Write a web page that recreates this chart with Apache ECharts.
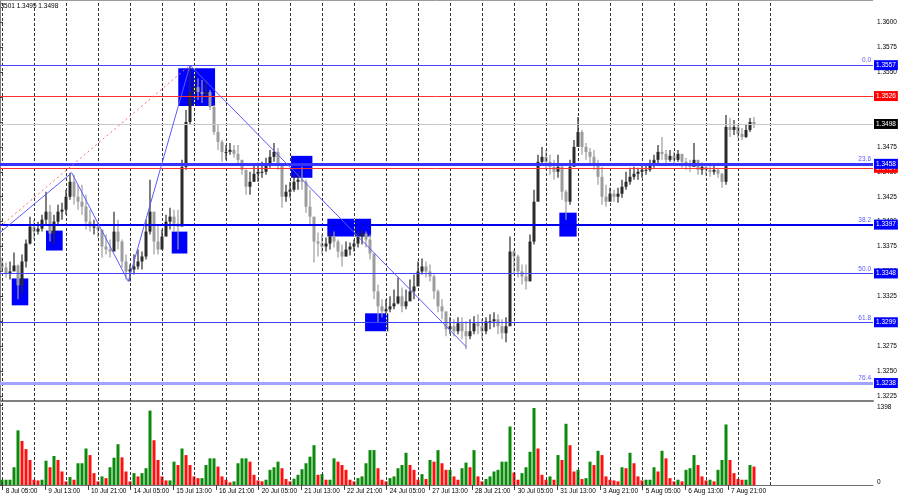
<!DOCTYPE html>
<html><head><meta charset="utf-8">
<script src="https://cdn.jsdelivr.net/npm/echarts@6/dist/echarts.min.js"></script>
<style>html,body{margin:0;padding:0;background:#fff}#c{width:900px;height:500px}</style>
</head><body><div id="c"></div>
<script>
// ---- data (prices in pips above 1.0000, i.e. 3498 -> 1.3498); one bar = 3 hours ----
const highs = [3364,3359,3360,3369,3357,3367,3382,3405,3402,3400,3407,3430,3417,3407,3417,3419,3432,3449,3447,3437,
3437,3427,3412,3402,3400,3390,3387,3382,3410,3402,3382,3367,3357,3367,3372,3370,3402,3442,3407,3397,
3392,3407,3414,3412,3412,3462,3512,3557,3547,3544,3542,3542,3532,3517,3497,3482,3477,3479,3477,3477,
3462,3452,3450,3457,3459,3460,3464,3472,3479,3474,3457,3437,3440,3447,3450,3455,3442,3432,3402,3389,
3387,3384,3389,3390,3382,3377,3380,3379,3382,3390,3392,3390,3387,3367,3337,3322,3322,3325,3332,3344,
3334,3332,3342,3347,3360,3363,3360,3357,3347,3332,3322,3305,3304,3302,3304,3304,3300,3302,3305,3307,
3302,3304,3307,3309,3307,3302,3304,3385,3372,3367,3357,3357,3387,3432,3467,3475,3472,3467,3462,3467,
3457,3432,3462,3482,3505,3492,3479,3474,3472,3462,3455,3437,3434,3432,3434,3442,3450,3454,3455,3454,
3456,3458,3462,3467,3477,3485,3472,3472,3470,3472,3467,3464,3462,3479,3462,3459,3457,3457,3457,3454,
3449,3507,3504,3502,3497,3494,3497,3504,3505];
const lows = [3350,3344,3342,3352,3322,3327,3354,3377,3382,3387,3390,3397,3380,3377,3397,3402,3407,3422,3417,3412,
3407,3392,3390,3387,3384,3364,3367,3364,3372,3372,3354,3342,3340,3347,3352,3352,3362,3387,3367,3367,
3372,3387,3392,3390,3372,3407,3452,3497,3517,3522,3519,3522,3512,3487,3472,3460,3462,3467,3464,3457,
3447,3427,3427,3440,3440,3444,3447,3454,3460,3452,3414,3420,3424,3430,3432,3432,3409,3397,3359,3365,
3367,3370,3372,3374,3364,3355,3365,3366,3370,3374,3377,3374,3362,3322,3299,3304,3307,3309,3312,3317,
3309,3312,3322,3322,3337,3347,3344,3340,3322,3309,3302,3285,3287,3285,3287,3282,3272,3282,3287,3287,
3282,3287,3292,3294,3287,3282,3279,3302,3347,3344,3337,3332,3352,3377,3422,3457,3452,3447,3442,3444,
3422,3402,3417,3462,3477,3467,3462,3457,3452,3437,3417,3415,3422,3420,3419,3424,3432,3437,3442,3442,
3444,3447,3450,3454,3457,3462,3457,3460,3457,3460,3454,3452,3450,3457,3447,3447,3446,3445,3447,3444,
3434,3437,3485,3487,3484,3482,3484,3490,3494];
const closes = [3354,3348,3350,3356,3336,3360,3378,3395,3390,3393,3402,3410,3388,3400,3410,3412,3425,3440,3425,3420,
3415,3400,3395,3395,3392,3375,3372,3370,3390,3380,3360,3350,3352,3355,3360,3365,3390,3410,3380,3372,
3385,3400,3405,3398,3395,3455,3500,3530,3535,3530,3528,3530,3515,3490,3480,3470,3470,3472,3468,3462,
3452,3435,3440,3448,3450,3450,3458,3465,3470,3458,3425,3430,3432,3440,3442,3440,3415,3405,3380,3378,
3375,3378,3385,3380,3370,3365,3372,3375,3378,3385,3388,3382,3368,3330,3315,3310,3312,3315,3318,3325,
3315,3320,3330,3335,3350,3355,3350,3345,3330,3315,3310,3292,3295,3290,3298,3290,3285,3290,3298,3295,
3290,3300,3300,3302,3295,3288,3295,3370,3365,3350,3345,3340,3380,3420,3460,3465,3460,3455,3450,3455,
3430,3420,3455,3475,3490,3475,3470,3465,3458,3445,3425,3420,3428,3425,3428,3435,3440,3445,3448,3450,
3452,3452,3458,3462,3470,3468,3462,3466,3462,3468,3460,3458,3455,3462,3452,3455,3452,3450,3452,3448,
3440,3495,3492,3495,3488,3485,3492,3500,3498];
const firstOpen = 3358;
const volumes = [92,92,92,310,955,770,627,437,92,80,
92,425,310,506,437,236,63,138,92,380,
380,638,523,207,63,150,120,310,477,713,
483,236,63,207,150,207,293,1300,782,437,
150,80,80,408,350,638,523,350,150,120,
120,350,466,466,322,150,92,46,63,380,
466,466,408,178,80,63,92,265,310,408,
293,104,63,109,178,276,380,495,696,178,
190,92,92,466,408,350,265,92,63,120,
150,380,610,610,293,92,63,120,150,293,
350,563,350,265,92,190,104,437,408,610,
380,265,265,150,92,293,391,310,610,150,
63,104,150,236,265,408,408,1023,218,92,
207,310,580,1345,638,178,92,150,92,523,
437,1070,696,236,265,104,120,408,350,598,
523,150,92,80,63,310,293,563,380,150,
80,92,92,310,236,598,466,120,63,92,
63,265,293,523,350,150,80,92,63,265,
437,1058,437,207,104,92,92,350,322];
const dateLabels = ["8 Jul 05:00","9 Jul 13:00","10 Jul 21:00","14 Jul 05:00","15 Jul 13:00","16 Jul 21:00",
"20 Jul 05:00","21 Jul 13:00","22 Jul 21:00","24 Jul 05:00","27 Jul 13:00","28 Jul 21:00",
"30 Jul 05:00","31 Jul 13:00","3 Aug 21:00","5 Aug 05:00","6 Aug 13:00","7 Aug 21:00"];
const priceTicks = [1.3225,1.3250,1.3275,1.3300,1.3325,1.3350,1.3375,1.3400,1.3425,1.3450,1.3475,1.3500,1.3525,1.3550,1.3575,1.3600];
const fibLevels = [["0.0",1.3557],["23.6",1.3458],["38.2",1.3397],["50.0",1.3348],["61.8",1.3299],["76.4",1.3238]];
const redLevels = [1.3526, 1.3454];
const bidPrice = 1.3498;
const volTopLabel = 1398;
// annotations: [hour, pips]
const zigzag = [[0,3389],[53.8,3449],[96.2,3340],[142.5,3557],[350,3274]];
const fibTrend = [[0,3395],[142.5,3557]];
// zones: [hourFrom, hourTo, pipsLow, pipsHigh]
const zones = [[8.8,21.2,3316,3343],[34.5,47,3371,3391],[128.8,140.5,3368,3390],[133.7,161.3,3516,3554],
[218.3,234.3,3444,3466],[245.5,278.3,3385,3403],[273.8,291.2,3290,3308],[419.5,432.5,3385,3409]];
const headerText = "1.3501 1.3495 1.3498";

// ---- build ----
const P = p => 1 + p / 10000;
const HOURS_PER_BAR = 3, HOURS_PER_GRID = 24, HOURS_PER_LABEL = 32, FIRST_MARK = 2;
const barHour = i => HOURS_PER_BAR * i + HOURS_PER_BAR / 2;
const candleData = closes.map((c, i) => [barHour(i), P(i ? closes[i-1] : firstOpen), P(c), P(lows[i]), P(highs[i])]);
const volData = volumes.map((v, i) => ({value: [barHour(i), v],
  itemStyle: {color: (i === 0 || v >= volumes[i-1]) ? '#0a8a0a' : '#ff1010'}}));
const lastHour = barHour(closes.length - 1);
const gridHours = []; for (let h = FIRST_MARK; h <= lastHour + HOURS_PER_GRID; h += HOURS_PER_GRID) gridHours.push(h);
const labelHours = dateLabels.map((d, k) => FIRST_MARK + HOURS_PER_LABEL * k);

const FONT = 'Liberation Sans, Arial, sans-serif';
const FS = 6.5;
const XMAX = 654.75;
const fibStyles = [{color:'#4545ff',width:1},{color:'#3535ff',width:3},{color:'#0000ee',width:2},
  {color:'#4040ff',width:1.2},{color:'#4040ff',width:1.2},{color:'#a3a3ff',width:3}];

const boxLabel = (txt, bg) => ({show:true, position:'end', formatter: txt, backgroundColor: bg, color:'#fff',
  padding:[2,2,1,2], fontSize: FS, fontFamily: FONT, distance: 1});

const gridLineStyle = {color:'#333', width:1, type:[3,2]};
const vGrid = (xi, yi) => ({type:'line', data:[], xAxisIndex:xi, yAxisIndex:yi, z:1, silent:true,
  markLine:{symbol:'none', silent:true, precision:6, animation:false, label:{show:false}, lineStyle:gridLineStyle,
    data: gridHours.map(h => ({xAxis:h}))}});

const yellowSegs = [];
zones.forEach(z => gridHours.forEach(h => { if (h > z[0] && h < z[1])
  yellowSegs.push([{coord:[h, P(z[2])]}, {coord:[h, P(z[3])]}]); }));

const fibLineStyle = i => ({color:fibStyles[i].color, width:fibStyles[i].width, type:'solid'});

const option = {
  animation:false,
  backgroundColor:'#fff',
  textStyle:{fontFamily:FONT},
  grid:[{left:0, right:27, top:1, height:400}, {left:0, right:27, top:403, height:82}],
  xAxis:[
    {gridIndex:0, type:'value', min:0, max:XMAX, axisLine:{show:true, lineStyle:{color:'#808080', width:2}},
      axisTick:{show:false}, axisLabel:{show:false}, splitLine:{show:false}},
    {gridIndex:1, type:'value', min:0, max:XMAX, axisLine:{show:true, lineStyle:{color:'#707070', width:1}},
      axisTick:{show:true, length:5, customValues: labelHours, lineStyle:{color:'#444'}},
      axisLabel:{show:true, customValues: labelHours, align:'left', margin:3, padding:[0,0,0,3],
        fontSize:FS, color:'#000', fontFamily:FONT,
        formatter: v => { const k = labelHours.indexOf(v); return k >= 0 ? dateLabels[k] : ''; }},
      splitLine:{show:false}}
  ],
  yAxis:[
    {gridIndex:0, type:'value', position:'right', min:1.32200, max:1.36214,
      axisLine:{show:true, lineStyle:{color:'#808080', width:1}},
      axisTick:{show:true, length:3, customValues: priceTicks, lineStyle:{color:'#444'}},
      axisLabel:{show:true, customValues: priceTicks, margin:4, fontSize:FS, color:'#000', fontFamily:FONT,
        formatter: v => v.toFixed(4)},
      splitLine:{show:false}},
    {gridIndex:1, type:'value', position:'right', min:0, max:1433,
      axisLine:{show:true, lineStyle:{color:'#808080', width:1}},
      axisTick:{show:true, length:3, customValues:[0, volTopLabel], lineStyle:{color:'#444'}},
      axisLabel:{show:true, customValues:[0, volTopLabel], margin:4, fontSize:FS, color:'#000', fontFamily:FONT,
        formatter: v => v === 0 ? '{z|0}' : '{t|' + v + '}',
        rich:{z:{padding:[0,0,6,0], fontSize:FS}, t:{padding:[4,0,0,0], fontSize:FS}}},
      splitLine:{show:false}}
  ],
  graphic:[
    {type:'line', shape:{x1:0, y1:0.5, x2:873, y2:0.5}, style:{stroke:'#9a9a9a', lineWidth:1}, silent:true},
    {type:'text', x:-5, y:3, style:{text: headerText, font: FS + 'px ' + FONT, fill:'#000'}, silent:true}
  ],
  series:[
    vGrid(0,0),
    vGrid(1,1),
    {type:'line', data:[], xAxisIndex:0, yAxisIndex:0, z:2, silent:true,
      markArea:{silent:true, precision:6, itemStyle:{color:'#0000ff', opacity:1},
        data: zones.map(z => [{xAxis:z[0], yAxis:P(z[2])}, {xAxis:z[1], yAxis:P(z[3])}])}},
    {type:'line', data:[], xAxisIndex:0, yAxisIndex:0, z:3, silent:true,
      markLine:{symbol:'none', silent:true, precision:6, label:{show:false},
        lineStyle:{color:'#ffff00', width:1, type:[2,2]}, data: yellowSegs}},
    {type:'custom', name:'price', xAxisIndex:0, yAxisIndex:0, z:4, silent:true,
      encode:{x:0, y:[1,2,3,4]}, data: candleData,
      renderItem: function(params, api) {
        const h = api.value(0), o = api.value(1), c = api.value(2), lo = api.value(3), hi = api.value(4);
        const pO = api.coord([h, o]), pC = api.coord([h, c]), pL = api.coord([h, lo]), pH = api.coord([h, hi]);
        const col = c >= o ? '#2a2a2a' : '#9c9c9c';
        const w = 3;
        return {type:'group', children:[
          {type:'line', shape:{x1:pL[0], y1:pL[1], x2:pH[0], y2:pH[1]}, style:{stroke:col, lineWidth:1.2}},
          {type:'rect', shape:{x:pO[0]-w/2, y:Math.min(pO[1],pC[1]), width:w, height:Math.max(1, Math.abs(pO[1]-pC[1]))},
            style:{fill:col}}
        ]};
      }},
    {type:'line', data:[], xAxisIndex:0, yAxisIndex:0, z:5, silent:true,
      markLine:{symbol:'none', silent:true, precision:6,
        data: [
          {yAxis: bidPrice, lineStyle:{color:'#c8c8c8', width:1, type:'solid'}, label: boxLabel(bidPrice.toFixed(4), '#000')}
        ].concat(redLevels.map(p => ({yAxis:p, lineStyle:{color:'#ff3030', width:1, type:'solid'},
          label: boxLabel(p.toFixed(4), '#ff0000')})))}},
    {type:'line', data:[], xAxisIndex:0, yAxisIndex:0, z:6, silent:true,
      markLine:{symbol:'none', silent:true, precision:6,
        data: fibLevels.map((f, i) => ({yAxis:f[1], lineStyle: fibLineStyle(i),
          label:{show:true, position:'insideEndTop', formatter:f[0], color:'#5a5aff', fontSize:FS, fontFamily:FONT, distance:[2,1]}}))
          .concat(fibLevels.map((f, i) => ({yAxis:f[1], lineStyle: fibLineStyle(i),
          label: boxLabel(f[1].toFixed(4), '#0000ff')})))}},
    {type:'line', xAxisIndex:0, yAxisIndex:0, z:6, silent:true, showSymbol:false, symbol:'none',
      data: zigzag.map(q => [q[0], P(q[1])]), lineStyle:{color:'#5b5bff', width:1}},
    {type:'line', xAxisIndex:0, yAxisIndex:0, z:6, silent:true, showSymbol:false, symbol:'none',
      data: fibTrend.map(q => [q[0], P(q[1])]), lineStyle:{color:'#ff6a6a', width:1, type:[2,3]}},
    {type:'bar', name:'volume', xAxisIndex:1, yAxisIndex:1, z:4, silent:true, barWidth:3,
      data: volData}
  ]
};
const chart = echarts.init(document.getElementById('c'), null, {renderer:'canvas'});
chart.setOption(option);
</script></body></html>
